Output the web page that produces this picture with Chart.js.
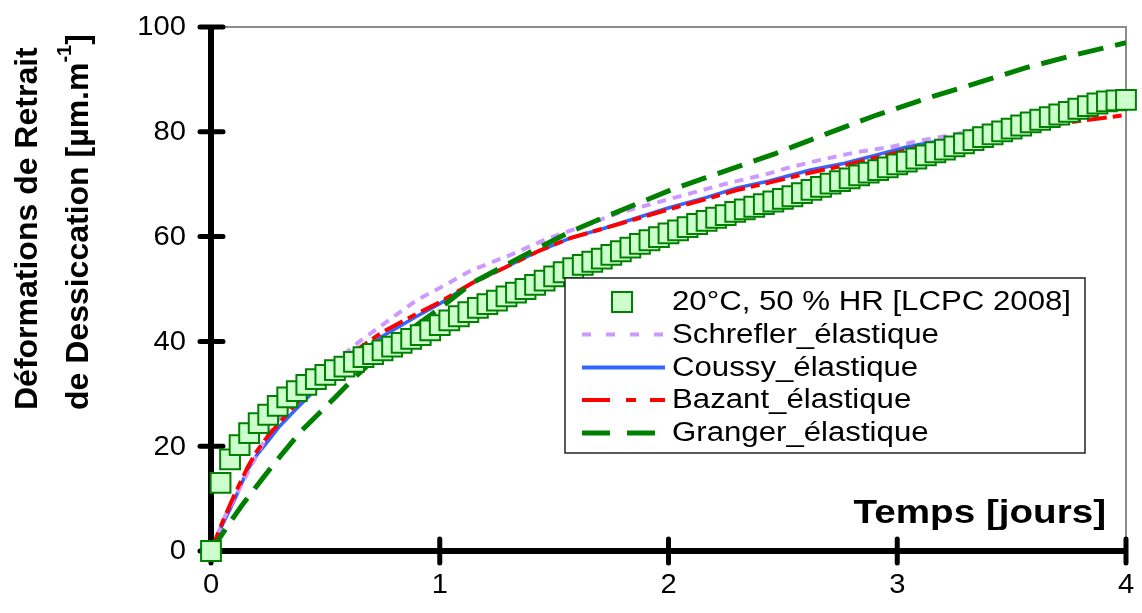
<!DOCTYPE html>
<html>
<head>
<meta charset="utf-8">
<script src="https://cdn.jsdelivr.net/npm/chart.js@4.4.1/dist/chart.umd.min.js"></script>
<style>
  html, body { margin: 0; padding: 0; background: #ffffff; }
  #c { display: block; }
</style>
</head>
<body>
<canvas id="c" width="1142" height="613"></canvas>
<script>
// ---------------- DATA ----------------
const xTickLabels = ['0', '1', '2', '3', '4'];
const yTickLabels = ['0', '20', '40', '60', '80', '100'];

const measureLabel = '20°C, 50 % HR [LCPC 2008]';
const measureHours = [0,1,2,3,4,5,6,7,8,9,10,11,12,13,14,15,16,17,18,19,20,21,22,23,24,
  25,26,27,28,29,30,31,32,33,34,35,36,37,38,39,40,41,42,43,44,45,46,47,48,
  49,50,51,52,53,54,55,56,57,58,59,60,61,62,63,64,65,66,67,68,69,70,71,72,
  73,74,75,76,77,78,79,80,81,82,83,84,85,86,87,88,89,90,91,92,93,94,95,96];
const measureValues = [0,13,17.5,20.2,22.5,24.4,26,27.7,29.3,30.5,31.7,32.8,33.6,34.5,35.2,36.1,37,37.6,38.3,39,39.7,40.5,41.2,42.1,43.1,
  44,44.8,45.6,46.4,47.1,47.8,48.6,49.3,50,50.8,51.6,52.4,53.2,54,54.6,55.2,55.8,56.5,57.2,57.9,58.6,59.3,59.9,60.6,
  61.2,61.8,62.4,63,63.6,64.1,64.7,65.2,65.7,66.2,66.7,67.2,67.7,68.3,68.9,69.5,70.1,70.6,71.1,71.7,72.2,72.7,73.2,73.8,
  74.3,74.9,75.5,76.1,76.6,77.2,77.8,78.4,79,79.5,80.1,80.6,81.2,81.8,82.3,82.8,83.3,83.8,84.4,84.9,85.4,85.8,86,86.1];

const schreflerLabel = 'Schrefler_élastique';
const schreflerT = [0,0.06,0.16,0.23,0.3,0.4,0.55,0.65,0.76,0.9,1.0,1.14,1.31,1.46,1.6,1.78,1.94,2.1,2.26,2.42,2.52,2.66,2.82,2.97,3.11,3.24,3.37,3.45];
const schreflerV = [0,6.5,14.9,20.8,25.5,30.5,36.4,40,43.5,47.9,50.2,53.6,56.5,59.4,61.6,64.5,66.4,68.3,70.2,71.8,73.1,74.6,76.1,77.1,78.4,79.4,80.7,81.3];

const coussyLabel = 'Coussy_élastique';
const coussyT = [0,0.05,0.1,0.16,0.2,0.25,0.3,0.37,0.45,0.55,0.63,0.75,0.9,1.0,1.14,1.29,1.43,1.57,1.72,1.87,2.01,2.16,2.3,2.44,2.62,2.77,2.91,3.05,3.2,3.35,3.5];
const coussyV = [0,5,9.5,15.5,18.3,21,23.8,27,30.5,34.5,37.2,41,44.8,47.2,51.1,54.2,57.2,59.7,61.6,63.7,65.6,67.4,69.3,70.6,72.7,74,75.6,77.2,78.4,79.6,80.8];

const bazantLabel = 'Bazant_élastique';
const bazantT = [0,0.05,0.1,0.16,0.2,0.25,0.3,0.37,0.45,0.55,0.63,0.75,0.9,1.0,1.14,1.29,1.43,1.57,1.72,1.87,2.01,2.16,2.3,2.44,2.62,2.77,2.91,3.05,3.2,3.35,3.5,3.65,3.8,4.0];
const bazantV = [0,5.5,10.5,16,19,22,24.5,28,31.5,35.5,38.2,41.8,45.3,47.5,51.1,54.2,57.2,59.7,61.6,63.5,65.3,67.1,68.9,70.3,72.2,73.6,75.1,76.6,77.9,79.1,80.2,81.2,82.1,83.2];

const grangerLabel = 'Granger_élastique';
const grangerT = [0,0.07,0.13,0.23,0.29,0.39,0.54,0.64,0.8,1.0,1.14,1.29,1.43,1.57,1.72,1.87,2.01,2.16,2.3,2.47,2.69,2.91,3.13,3.34,3.56,3.78,4.0];
const grangerV = [0,4.6,8.4,14.1,17.4,22.7,29.2,33.6,40,46.3,51.1,54.6,57.8,60.9,63.7,66.4,68.9,71.2,73.3,75.9,79.6,83.2,86.4,89.2,92.2,94.7,97];

const xTitle = 'Temps [jours]';
const yTitle1 = 'Déformations de Retrait';
const yTitle2a = 'de Dessiccation [µm.m';
const yTitle2sup = '-1';
const yTitle2b = ']';

// ---------------- STYLE ----------------
const FONT = '"Liberation Sans", Arial, sans-serif';
const C_MARK_FILL = '#CCFFCC', C_MARK_LINE = '#008000';
const C_PURPLE = '#CC99FF', C_BLUE = '#3366FF', C_RED = '#FF0000', C_GREEN = '#008000';
const DASH_PURPLE = [9, 7], DASH_RED = [20, 6, 9, 6], DASH_GREEN = [26, 12];

function pts(xs, ys) { return xs.map((x, i) => ({ x: x, y: ys[i] })); }

function txt(ctx, s, x, y, font, align, baseline, sx) {
  ctx.save();
  ctx.font = font; ctx.textAlign = align; ctx.textBaseline = baseline;
  ctx.fillStyle = '#000';
  ctx.translate(x, y); ctx.scale(sx, 1);
  ctx.fillText(s, 0, 0);
  ctx.restore();
}

const axesPlugin = {
  id: 'axesPlugin',
  beforeDatasetsDraw(chart) {
    const ctx = chart.ctx, a = chart.chartArea;
    const xs = chart.scales.x, ys = chart.scales.y;
    ctx.save();
    ctx.strokeStyle = '#8c8c8c'; ctx.lineWidth = 2;
    ctx.beginPath();
    ctx.moveTo(a.left, a.top); ctx.lineTo(a.right, a.top); ctx.lineTo(a.right, a.bottom);
    ctx.stroke();
    ctx.strokeStyle = '#000'; ctx.lineWidth = 6; ctx.lineCap = 'butt';
    ctx.beginPath();
    ctx.moveTo(a.left, a.top); ctx.lineTo(a.left, a.bottom + 3);
    ctx.moveTo(a.left - 3, a.bottom); ctx.lineTo(a.right, a.bottom);
    ctx.stroke();
    ctx.lineWidth = 5; ctx.lineCap = 'round';
    ctx.beginPath();
    ys.ticks.forEach(t => {
      const py = ys.getPixelForValue(t.value);
      ctx.moveTo(a.left - 11, py); ctx.lineTo(a.left + 12, py);
    });
    xs.ticks.forEach(t => {
      const px = xs.getPixelForValue(t.value);
      ctx.moveTo(px, a.bottom - 12); ctx.lineTo(px, a.bottom + 12);
    });
    ctx.stroke();
    ctx.restore();
  }
};

const textPlugin = {
  id: 'textPlugin',
  afterDatasetsDraw(chart) {
    const ctx = chart.ctx;
    const xs = chart.scales.x, ys = chart.scales.y;
    const tickFont = '27px ' + FONT;
    ys.ticks.forEach((t, i) => {
      txt(ctx, yTickLabels[i], 186, ys.getPixelForValue(t.value) + 1, tickFont, 'right', 'middle', 1.08);
    });
    xs.ticks.forEach((t, i) => {
      txt(ctx, xTickLabels[i], xs.getPixelForValue(t.value), 586, tickFont, 'center', 'middle', 1.08);
    });
    txt(ctx, xTitle, 1106, 523, 'bold 33px ' + FONT, 'right', 'alphabetic', 1.17);
    ctx.save();
    ctx.fillStyle = '#000';
    ctx.textAlign = 'left'; ctx.textBaseline = 'alphabetic';
    ctx.translate(37, 410); ctx.rotate(-Math.PI / 2);
    ctx.font = 'bold 32px ' + FONT;
    ctx.fillText(yTitle1, 0, 0);
    ctx.restore();
    ctx.save();
    ctx.fillStyle = '#000';
    ctx.textAlign = 'left'; ctx.textBaseline = 'alphabetic';
    ctx.translate(88, 410); ctx.rotate(-Math.PI / 2);
    ctx.font = 'bold 32px ' + FONT;
    ctx.fillText(yTitle2a, 0, 0);
    let w = ctx.measureText(yTitle2a).width;
    ctx.font = 'bold 20px ' + FONT;
    ctx.fillText(yTitle2sup, w, -17);
    w += ctx.measureText(yTitle2sup).width;
    ctx.font = 'bold 32px ' + FONT;
    ctx.fillText(yTitle2b, w, 0);
    ctx.restore();

    const L = 565, T = 278, R = 1085, B = 453;
    ctx.save();
    ctx.fillStyle = '#fff';
    ctx.fillRect(L, T, R - L, B - T);
    ctx.strokeStyle = '#222'; ctx.lineWidth = 1.5;
    ctx.strokeRect(L, T, R - L, B - T);
    const rows = [302, 334.5, 367.5, 400, 433];
    const legFont = '27px ' + FONT;
    ctx.fillStyle = C_MARK_FILL; ctx.strokeStyle = C_MARK_LINE; ctx.lineWidth = 2;
    ctx.fillRect(612, rows[0] - 10, 20, 20);
    ctx.strokeRect(612, rows[0] - 10, 20, 20);
    const lines = [
      { c: C_PURPLE, d: [9, 15], w: 4 },
      { c: C_BLUE, d: [], w: 4 },
      { c: C_RED, d: [28, 16, 10, 14], w: 4 },
      { c: C_GREEN, d: [28, 17], w: 5 }
    ];
    lines.forEach((l, i) => {
      ctx.beginPath();
      ctx.strokeStyle = l.c; ctx.lineWidth = l.w; ctx.setLineDash(l.d); ctx.lineCap = 'butt';
      ctx.moveTo(582, rows[i + 1]); ctx.lineTo(665, rows[i + 1]);
      ctx.stroke();
    });
    ctx.setLineDash([]);
    ctx.restore();
    const labels = [measureLabel, schreflerLabel, coussyLabel, bazantLabel, grangerLabel];
    labels.forEach((s, i) => txt(ctx, s, 672, rows[i] + 1, legFont, 'left', 'middle', 1.155));
  }
};

// ---------------- CHART ----------------
const ctx = document.getElementById('c').getContext('2d');
new Chart(ctx, {
  type: 'scatter',
  data: {
    datasets: [
      { label: measureLabel, data: pts(measureHours.map(h => h / 24), measureValues),
        showLine: false, pointStyle: 'rect', pointRadius: 14, pointBackgroundColor: C_MARK_FILL,
        pointBorderColor: C_MARK_LINE, pointBorderWidth: 2, clip: false, order: 0 },
      { label: grangerLabel, data: pts(grangerT, grangerV), showLine: true, pointRadius: 0,
        borderColor: C_GREEN, borderWidth: 5, borderDash: DASH_GREEN, fill: false, order: 1 },
      { label: bazantLabel, data: pts(bazantT, bazantV), showLine: true, pointRadius: 0,
        borderColor: C_RED, borderWidth: 4, borderDash: DASH_RED, fill: false, order: 2 },
      { label: schreflerLabel, data: pts(schreflerT, schreflerV), showLine: true, pointRadius: 0,
        borderColor: C_PURPLE, borderWidth: 4, borderDash: DASH_PURPLE, fill: false, order: 3 },
      { label: coussyLabel, data: pts(coussyT, coussyV), showLine: true, pointRadius: 0,
        borderColor: C_BLUE, borderWidth: 3.5, fill: false, order: 4 }
    ]
  },
  options: {
    responsive: false,
    animation: false,
    devicePixelRatio: 1,
    layout: { padding: { top: 27, right: 12, left: 0, bottom: 0 } },
    scales: {
      x: { type: 'linear', min: 0, max: 4, ticks: { stepSize: 1, display: false },
           grid: { display: false }, border: { display: false },
           afterFit: s => { s.height = 62; } },
      y: { type: 'linear', min: 0, max: 100, ticks: { stepSize: 20, display: false },
           grid: { display: false }, border: { display: false },
           afterFit: s => { s.width = 211; } }
    },
    plugins: { legend: { display: false }, tooltip: { enabled: false } }
  },
  plugins: [axesPlugin, textPlugin]
});
</script>
</body>
</html>
